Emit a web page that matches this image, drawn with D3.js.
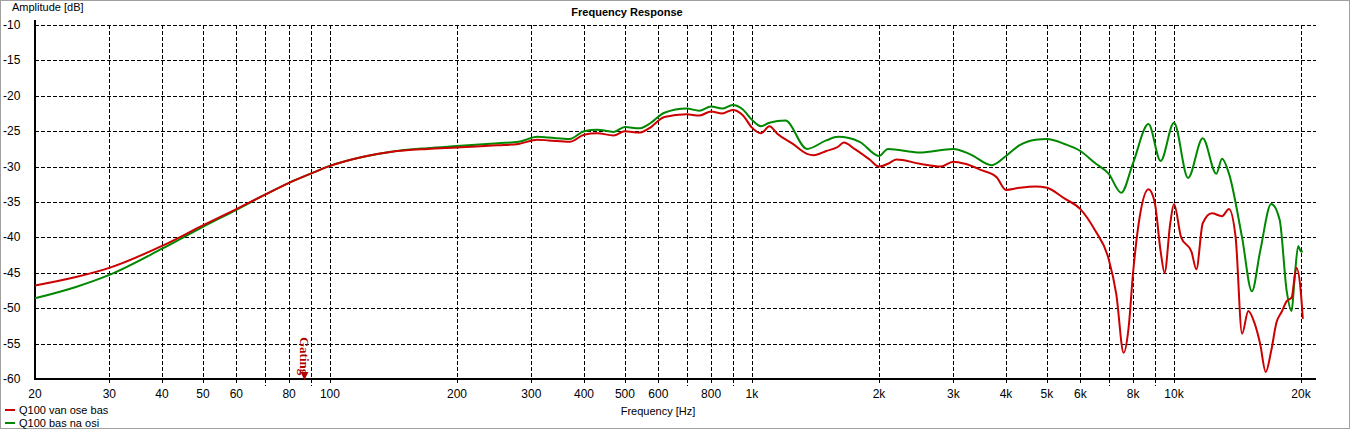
<!DOCTYPE html>
<html><head><meta charset="utf-8">
<script src="https://cdn.jsdelivr.net/npm/d3@7"></script>
<style>body{margin:0;background:#fff}svg{display:block;font-family:"Liberation Sans",Arial,sans-serif}</style>
</head><body><svg id="chart" width="1351" height="430"></svg>
<script>
// frequencies (Hz) and amplitudes (dB)
const redFreq = [20,25,30,40,50,60,70,80,90,100,120,140,170,200,250,280,310,330,370,400,430,470,500,540,570,620,700,750,800,850,900,950,1000,1050,1100,1150,1250,1350,1400,1500,1600,1650,1750,1900,2000,2100,2200,2500,2800,3000,3200,3500,3800,4000,4300,4700,5000,5500,6000,6500,7000,7300,7600,7800,8000,8300,8700,9000,9300,9500,9800,10000,10400,11000,11300,11700,12300,13000,13500,14000,14500,15000,15500,16000,16500,17000,17500,18000,18500,19000,19500,20000,20200];
const redDb = [-46.8,-45.6,-44.3,-41.2,-38.3,-36,-34,-32.3,-31,-29.9,-28.6,-27.9,-27.5,-27.3,-27,-26.8,-26.2,-26.3,-26.5,-25.5,-25.3,-25.6,-25,-25.2,-24.6,-23,-22.6,-22.8,-22.2,-22.5,-22,-22.7,-24.5,-25.3,-24.3,-25.4,-26.8,-28.2,-28.4,-27.8,-27.2,-26.6,-27.5,-29,-30,-29.6,-29,-29.6,-30,-29.3,-29.6,-30.5,-31.5,-33.3,-33,-32.8,-33,-34.5,-36,-39,-43,-48,-56.3,-53,-45,-37,-33.2,-35,-42,-45,-38,-35.3,-40,-42,-44.5,-38,-36.6,-37,-36,-40,-53.6,-50.4,-52,-55,-59,-56,-52,-50.5,-49,-48.5,-44.3,-48,-51.5];
const greenFreq = [20,25,30,40,50,60,70,80,90,100,120,140,170,200,250,280,310,330,370,400,430,470,500,540,570,620,700,750,800,850,900,950,1000,1050,1100,1200,1350,1500,1600,1800,2000,2100,2500,3000,3300,3700,4000,4300,4700,5000,5500,6000,6500,7000,7500,8000,8700,9300,10000,10800,11700,12600,13000,13500,14500,15300,16000,17000,17800,18500,19000,19300,19700,20000,20200];
const greenDb = [-48.6,-47,-45.3,-41.6,-38.5,-36.1,-34,-32.3,-31,-29.9,-28.6,-27.9,-27.4,-27.1,-26.7,-26.5,-25.8,-25.9,-26.1,-25,-24.8,-25.1,-24.4,-24.6,-24,-22.4,-21.8,-22.1,-21.5,-21.8,-21.3,-21.9,-23.4,-24.3,-23.8,-23.5,-27.5,-26.3,-25.8,-26.5,-28.5,-27.5,-28,-27.5,-28.3,-29.8,-28.5,-27,-26.2,-26.1,-26.8,-27.8,-29.5,-31,-33.7,-29.5,-24,-29.2,-23.8,-31.6,-26,-31,-28.9,-31,-40,-47.6,-42,-35.3,-37.5,-47.6,-50.4,-46,-41.2,-42,-42];
const xTicks = [20,30,40,50,60,80,100,200,300,400,500,600,800,1000,2000,3000,4000,5000,6000,8000,10000,20000];
const xGrid = [20,30,40,50,60,70,80,90,100,200,300,400,500,600,700,800,900,1000,2000,3000,4000,5000,6000,7000,8000,9000,10000,20000];
const yTicks = [-10,-15,-20,-25,-30,-35,-40,-45,-50,-55,-60];
const series = [
  {name: "Q100 van ose bas", color: "#cc0000", f: redFreq, v: redDb},
  {name: "Q100 bas na osi", color: "#008800", f: greenFreq, v: greenDb}
];

const svg = d3.select("#chart");
const x = d3.scaleLog().domain([20, 20000]).range([35, 1301]);
const y = d3.scaleLinear().domain([-60, -10]).range([379, 25]);
const fmt = d => d >= 1000 ? (d / 1000) + "k" : d;

svg.append("rect").attr("x", 0.5).attr("y", 0.5).attr("width", 1349).attr("height", 428)
  .attr("fill", "none").attr("stroke", "#a0a0a0");

const grid = svg.append("g").attr("stroke", "#000").attr("stroke-dasharray", "4,2").attr("stroke-width", 1);
grid.selectAll("line.h").data(yTicks.filter(d => d > -60)).join("line")
  .attr("x1", 35).attr("x2", 1316).attr("y1", d => Math.round(y(d)) + 0.5).attr("y2", d => Math.round(y(d)) + 0.5);
grid.selectAll("line.v").data(xGrid.slice(1)).join("line")
  .attr("x1", d => Math.round(x(d)) + 0.5).attr("x2", d => Math.round(x(d)) + 0.5)
  .attr("y1", 25).attr("y2", d => xTicks.includes(d) ? 384 : 386);

// axes
svg.append("line").attr("x1", 35).attr("x2", 35).attr("y1", 20).attr("y2", 380).attr("stroke", "#000").attr("stroke-width", 2);
svg.append("line").attr("x1", 34).attr("x2", 1316).attr("y1", 379).attr("y2", 379).attr("stroke", "#000").attr("stroke-width", 2);

svg.append("g").selectAll("text").data(yTicks).join("text")
  .attr("x", 3).attr("y", d => y(d) + 4).attr("font-size", 12).text(d => d);
svg.append("g").selectAll("text").data(xTicks).join("text")
  .attr("x", d => x(d)).attr("y", 398).attr("text-anchor", "middle").attr("font-size", 12).text(fmt);

svg.append("text").attr("x", 12).attr("y", 11).attr("font-size", 11).text("Amplitude [dB]");
svg.append("text").attr("x", 627).attr("y", 16).attr("text-anchor", "middle").attr("font-size", 11).attr("font-weight", 700).text("Frequency Response");
svg.append("text").attr("x", 658).attr("y", 415).attr("text-anchor", "middle").attr("font-size", 11).text("Frequency [Hz]");

const line = d3.line().x(d => x(d[0])).y(d => y(d[1])).curve(d3.curveMonotoneX);
series.slice().reverse().forEach(s => {
  svg.append("path").datum(d3.zip(s.f, s.v)).attr("d", line)
    .attr("fill", "none").attr("stroke", s.color).attr("stroke-width", 2);
});

// gating marker
const gx = x(87);
svg.append("path").attr("d", `M${gx - 4},${372} L${gx + 4},${372} L${gx},${380} Z`).attr("fill", "#b00000");
svg.append("text").attr("transform", `translate(${gx - 4},${337}) rotate(90)`).attr("font-size", 13)
  .attr("font-weight", 700).attr("fill", "#b00000").attr("font-family", "Liberation Serif, serif").text("Gating");

const leg = svg.append("g");
series.forEach((s, i) => {
  leg.append("line").attr("x1", 5).attr("x2", 15).attr("y1", 410 + i * 13).attr("y2", 410 + i * 13)
    .attr("stroke", s.color).attr("stroke-width", 2);
  leg.append("text").attr("x", 19).attr("y", 414 + i * 13).attr("font-size", 11).text(s.name);
});
</script></body></html>
